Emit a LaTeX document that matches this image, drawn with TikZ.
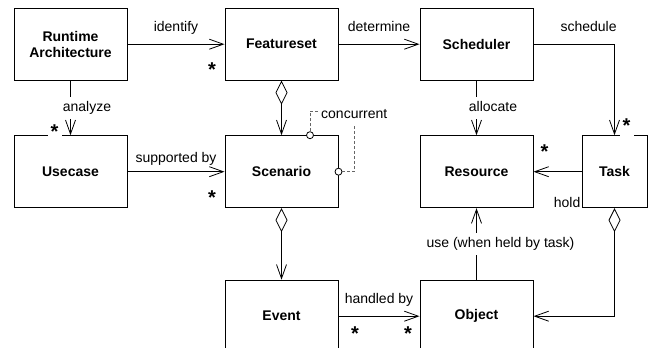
\documentclass[tikz,border=0pt]{standalone}
\usepackage{fontspec}
\setmainfont{Liberation Sans}
\usetikzlibrary{positioning, arrows.meta, calc}
\tikzset{
    box/.style={
        rectangle, draw=black, line width=1pt, inner sep=0pt,
        minimum width=113pt, minimum height=72pt,
        align=center, font=\fontsize{14}{16}\selectfont\bfseries,
    },
    assoc/.style={
        -{Straight Barb[length=14pt, width=10pt]}, line width=0.8pt
    },
    aggr/.style={
        {Diamond[open, length=24pt, width=12pt]}-{Straight Barb[length=14pt, width=10pt]},
        line width=0.8pt
    },
    lab/.style={font=\fontsize{14}{16}\selectfont, inner sep=2pt, text depth=3pt},
    vlab/.style={lab, fill=white, inner sep=4pt},
    mult/.style={font=\fontsize{20}{20}\selectfont\bfseries, inner sep=1pt, anchor=base},
    multgap/.style={mult, fill=white, minimum width=14pt, text depth=4pt},
    note/.style={draw=black!60, line width=0.8pt, dash pattern=on 3pt off 2pt},
    port/.style={circle, draw, fill=white, line width=0.8pt, minimum size=7pt, inner sep=0pt},
}

\begin{document}
\begin{tikzpicture}[x=1pt, y=-1pt]
\useasboundingbox (0,0) rectangle (648,348);
\clip (0,0) rectangle (648,348);

% ------------------------------------------------------------
%  Classes, three rows
% ------------------------------------------------------------
\node[box] (runtime) at (70.5,44.2) {Runtime\\Architecture};
\node[box, right=97pt of runtime] (feature) {Featureset};
\node[box, right=81pt of feature] (sched) {Scheduler};

\node[box, below=54.5pt of runtime] (usecase) {Usecase};
\node[box, below=54.5pt of feature] (scen) {Scenario};
\node[box, below=54.5pt of sched] (res) {Resource};
\node[box, right=48pt of res, minimum width=65pt] (task) {Task};

% bottom row runs off the page
\node[box, below=71.5pt of scen] (event) {Event};
\node[box, below=71.5pt of res] (object) {Object};

% ------------------------------------------------------------
%  Associations and aggregations
% ------------------------------------------------------------
\draw[assoc] (runtime) -- node[lab, above=7pt] {identify} (feature);
\draw[assoc] (feature) -- node[lab, above=7pt] {determine} (sched);
\draw[assoc] (sched.east) -| node[lab, above=7pt, pos=0.34] {schedule} (task.north);

\draw[assoc] (runtime) -- node[vlab, xshift=16.5pt] {analyze} (usecase);
\draw[aggr] (feature) -- (scen);
\draw[assoc] (sched) -- node[vlab, xshift=16.5pt] {allocate} (res);

\draw[assoc] (usecase) -- node[lab, above=4pt] {supported by} (scen);
\draw[assoc] (task) -- (res);
\node[lab, anchor=south east, inner sep=1pt, text depth=0pt] (holdlab)
    at (task.south west) {hold};

\draw[aggr] (scen) -- (event);
\draw[assoc] (object) -- node[vlab, xshift=24pt] {use (when held by task)} (res);
\draw[aggr] (task.south) |- (object.east);
\draw[assoc] (event) -- node[lab, above=7pt] {handled by} (object);

% ------------------------------------------------------------
%  Constraint note on Scenario
% ------------------------------------------------------------
\node[port] (c1) at ($(scen.north)+(28.5,0)$) {};
\node[port] (c2) at (scen.east) {};
\node[lab, anchor=base west, text height=14pt, text depth=0pt,
      inner xsep=1pt, inner ysep=5pt] (concur)
    at ($(scen.north east)+(-18.5,-16.5)$) {concurrent};
\draw[note] (c1) |- (concur.west);
\draw[note] (c2) -| (concur.south);

% ------------------------------------------------------------
%  Multiplicities
% ------------------------------------------------------------
\node[multgap] (m1) at ($(usecase.north west)+(41,3)$) {*};
\node[mult] (m2) at ($(feature.south west)+(-12.5,-4.4)$) {*};
\node[mult] (m3) at ($(scen.south west)+(-12.5,-4)$) {*};
\node[mult] (m4) at ($(res.north east)+(11,23)$) {*};
\node[multgap] (m5) at ($(task.north)+(12,-3)$) {*};
\node[mult] (m6) at ($(event.east)+(16.5,24.6)$) {*};
\node[mult] (m7) at ($(object.west)+(-11.5,24.6)$) {*};

\end{tikzpicture}
\end{document}
